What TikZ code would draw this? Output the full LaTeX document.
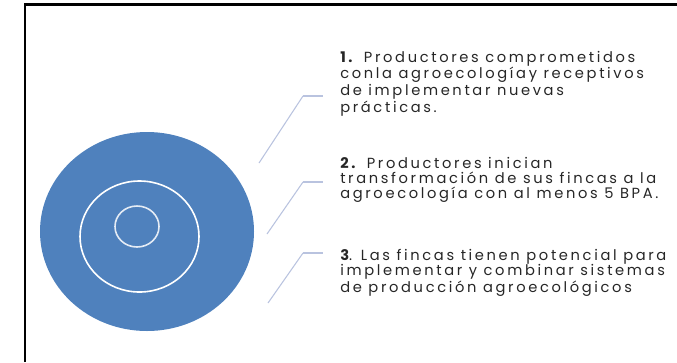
\documentclass[tikz,border=0pt]{standalone}
\usepackage{fontspec}
\setmainfont[LetterSpace=18]{Poppins}
\usepackage{tikz}
\usetikzlibrary{positioning}
\usetikzlibrary{shapes}
\definecolor{ringblue}{HTML}{4F81BD}
\definecolor{leadercol}{HTML}{B9C3DF}
\tikzstyle{disc}=[ellipse,fill=ringblue,inner sep=0pt]
\tikzstyle{ring}=[ellipse,draw,inner sep=0pt]
\tikzstyle{leader} = [draw,leadercol,line width=0.8pt]
\tikzstyle{leadertop} = [draw,leadercol,line width=1.9pt]
\tikzstyle{item} = [anchor=base west,inner sep=0pt,align=left,text=black!85,font=\fontsize{11}{11.25}\selectfont]

\begin{document}
\begin{tikzpicture}[x=0.75pt,y=-0.75pt]

  \useasboundingbox (0,0) rectangle (677,362);

  % frame
  \draw[line width=1.8pt] (25,362) -- (25,4.5) -- (677,4.5);

  % target
  \node[disc,minimum width=160.5pt,minimum height=149.25pt] (disc) at (147,231.5) {};
  \node[ring,draw=white,line width=1.2pt,minimum width=89.25pt,minimum height=83.25pt] (ring2) at (139.5,236.5) {};
  \node[ring,draw=white!85!ringblue,line width=1.2pt,minimum width=33pt,minimum height=30.75pt] (ring3) at (137,226.5) {};

  % leaders
  \foreach \n/\sx/\sy/\by in {1/259/163/96, 2/267/234/182, 3/268/303/253}
  {
    \coordinate (s\n) at (\sx,\sy);
    \coordinate (b\n) at (303,\by);
    \coordinate (e\n) at (323,\by);
    \path[leader] (s\n) -- (b\n);
    \path[leadertop] (b\n) -- (e\n);
  }

  % texts (placed at the baseline of the last line)
  \node[item] (item1) at (340,112) {\textbf{1.} Productores comprometidos\\conla agroecologíay receptivos\\de implementar nuevas\\prácticas.};
  \node[item] (item2) at (340,198) {\textbf{2.} Productores inician\\transformación de sus fincas a la\\agroecología con al menos 5 BPA.};
  \node[item] (item3) at (340,292) {\textbf{3}. Las fincas tienen potencial para\\implementar y combinar sistemas\\de producción agroecológicos};

\end{tikzpicture}
\end{document}
